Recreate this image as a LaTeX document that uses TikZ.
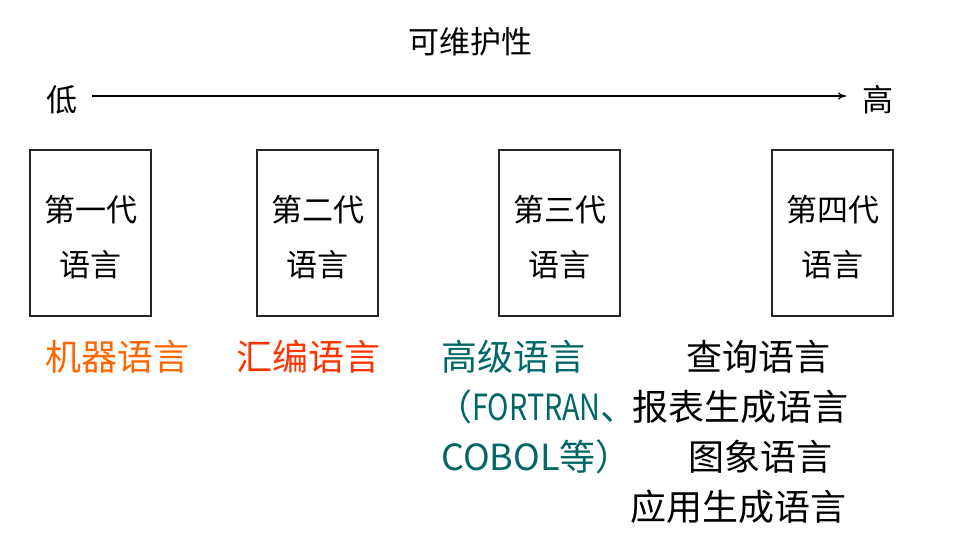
\documentclass[tikz,border=0pt]{standalone}
\usepackage{fontspec}
\newfontfamily\cjk{Noto Sans CJK SC}
\usetikzlibrary{arrows.meta}
\definecolor{cOrange}{HTML}{FF6600}
\definecolor{cRed}{HTML}{FF3300}
\definecolor{cTeal}{HTML}{006666}
\tikzset{
  gen/.style={draw=black!85, line width=1.5pt, minimum width=121pt, minimum height=166pt, inner sep=0pt, font=\cjk\fontsize{31}{55}\selectfont, align=center},
  gentext/.style={inner sep=0pt, font=\cjk\fontsize{31}{55}\selectfont, align=center},
  lbl/.style={inner sep=0pt, anchor=west, font=\cjk\fontsize{36}{40}\selectfont},
  big/.style={inner sep=0pt, font=\cjk\fontsize{31}{36}\selectfont},
}
\begin{document}
\begin{tikzpicture}[x=1pt,y=-1pt]
\useasboundingbox (0,0) rectangle (960,557);
\node[big] (title) at (470,42) {可维护性};
\node[big] (low) at (62,100) {低};
\node[big] (high) at (878,100) {高};
\coordinate (a0) at (92,96);
\coordinate (a1) at (846,96);
\draw[line width=1.3pt, -{To[length=8pt,width=7pt]}] (a0) -- (a1);
\node[gen] (g1) at (90.5,233) {};
\node[gen] (g2) at (317.5,233) {};
\node[gen] (g3) at (559.5,233) {};
\node[gen] (g4) at (832.5,233) {};
\node[gentext] (t1) at (90.5,237) {第一代\\语言};
\node[gentext] (t2) at (317.5,237) {第二代\\语言};
\node[gentext] (t3) at (559.5,237) {第三代\\语言};
\node[gentext] (t4) at (832.5,237) {第四代\\语言};
\node[lbl, text=cOrange] (m1) at (45,357) {机器语言};
\node[lbl, text=cRed] (m2) at (236,357) {汇编语言};
\node[lbl, text=cTeal] (m3) at (441,357) {高级语言};
\node[lbl, text=cTeal] (m3b) at (436,407) {（\scalebox{0.8}[1]{FORTRAN}、};
\node[lbl, text=cTeal] (m3c) at (441,457) {COBOL等）};
\node[lbl] (q1) at (686,357) {查询语言};
\node[lbl] (q2) at (632,407) {报表生成语言};
\node[lbl] (q3) at (688,457) {图象语言};
\node[lbl] (q4) at (630,507) {应用生成语言};
\end{tikzpicture}
\end{document}
